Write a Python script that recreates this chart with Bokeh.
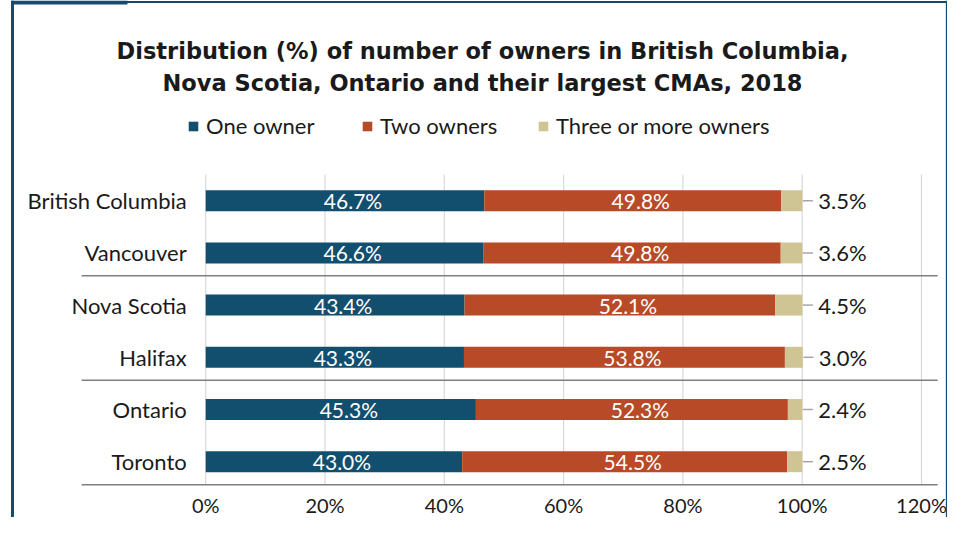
from bokeh.plotting import figure
from bokeh.models import ColumnDataSource, Range1d, Legend, LegendItem, Label
from bokeh.core.properties import value
from bokeh.embed import file_html
from bokeh.resources import INLINE

# ---- data ----
regions = ["British Columbia", "Vancouver", "Nova Scotia", "Halifax", "Ontario", "Toronto"]
one_owner = [46.7, 46.6, 43.4, 43.3, 45.3, 43.0]
two_owners = [49.8, 49.8, 52.1, 53.8, 52.3, 54.5]
three_plus = [3.5, 3.6, 4.5, 3.0, 2.4, 2.5]
group_sizes = [2, 2, 2]
x_ticks = [0, 20, 40, 60, 80, 100, 120]
tick_labels = ["0%", "20%", "40%", "60%", "80%", "100%", "120%"]
series_names = ["One owner", "Two owners", "Three or more owners"]
title_lines = ["Distribution (%) of number of owners in British Columbia,",
               "Nova Scotia, Ontario and their largest CMAs, 2018"]

C1, C2, C3 = "#124f6f", "#b84a27", "#cfc494"
FONT = "Lato"
TXT = "#1a1a1a"

W, H = 947, 517
idx = list(range(len(regions)))
left2 = one_owner
right2 = [a + b for a, b in zip(one_owner, two_owners)]
total = [a + b + c for a, b, c in zip(one_owner, two_owners, three_plus)]

src = ColumnDataSource(dict(
    y=idx, region=regions,
    l1=[0] * len(idx), r1=one_owner,
    l2=left2, r2=right2,
    l3=right2, r3=total,
    c1=[(0 + b) / 2 for b in one_owner],
    c2=[(a + b) / 2 for a, b in zip(left2, right2)],
    t1=[f"{v:.1f}%" for v in one_owner],
    t2=[f"{v:.1f}%" for v in two_owners],
    t3=[f"{v:.1f}%" for v in three_plus],
    lead0=[t + 0.1 for t in total],
    lead1=[t + 1.8 for t in total],
))

p = figure(width=W, height=H, output_backend="svg", toolbar_location=None,
           x_range=Range1d(-34.40, 124.36), y_range=Range1d(6.069, -3.835),
           min_border=0, border_fill_color="white", outline_line_color=None)
p.xaxis.visible = False
p.yaxis.visible = False
p.xgrid.visible = False
p.ygrid.visible = False

# vertical gridlines
p.segment(x0=x_ticks, x1=x_ticks, y0=[-0.5] * len(x_ticks), y1=[5.44] * len(x_ticks),
          line_color="#d9d9d9", line_width=1.2)

# bars
r1 = p.hbar(y="y", left="l1", right="r1", height=0.402, source=src, fill_color=C1, line_color=None)
r2 = p.hbar(y="y", left="l2", right="r2", height=0.402, source=src, fill_color=C2, line_color=None)
r3 = p.hbar(y="y", left="l3", right="r3", height=0.402, source=src, fill_color=C3, line_color=None)

# group separators and category axis line
bounds = []
acc = 0
for g in group_sizes:
    acc += g
    bounds.append(acc - 0.5 - 0.06)
p.segment(x0=[-20.8] * len(bounds), x1=[122.7] * len(bounds), y0=bounds, y1=bounds,
          line_color="#7f7f7f", line_width=1.5)

# in-bar labels
p.text(x="c1", y="y", text="t1", source=src, x_offset=8, text_align="center", text_baseline="middle",
       text_color="white", text_font=value(FONT), text_font_size="21px")
p.text(x="c2", y="y", text="t2", source=src, x_offset=8, text_align="center", text_baseline="middle",
       text_color="white", text_font=value(FONT), text_font_size="21px")
# leader lines + outside labels
p.segment(x0="lead0", x1="lead1", y0="y", y1="y", source=src, line_color="#a6a6a6", line_width=1.5)
p.text(x="r3", y="y", text="t3", source=src, x_offset=16, text_align="left", text_baseline="middle",
       text_color=TXT, text_font=value(FONT), text_font_size="22px")

# category labels
p.text(x=[0] * len(idx), y=idx, text=regions, x_offset=-19, text_align="right", text_baseline="middle",
       text_color=TXT, text_font=value(FONT), text_font_size="22px")

# x tick labels
p.text(x=x_ticks, y=[5.82] * len(x_ticks), text=tick_labels, text_align="center", text_baseline="middle",
       text_color=TXT, text_font=value(FONT), text_font_size="20px")

# title
for k, line in enumerate(title_lines):
    p.add_layout(Label(x=482, y=H - 50 - 32 * k, x_units="screen", y_units="screen", text=line,
                       text_align="center", text_baseline="middle", text_font="DejaVu Sans",
                       text_font_size="22.5px", text_font_style="bold", text_color=TXT))

# legends (one per item, horizontally placed)
legend_x = [187, 361, 537]
for rr, name, lx in zip([r1, r2, r3], series_names, legend_x):
    lg = Legend(items=[LegendItem(label=name, renderers=[rr])], location=(lx, 378),
                orientation="horizontal", padding=0, margin=0, border_line_alpha=0,
                background_fill_alpha=0, label_text_font=FONT, label_text_font_size="22px",
                label_text_color=TXT, glyph_width=12, glyph_height=12,
                label_standoff=7, label_height=20, spacing=0)
    p.add_layout(lg, "center")

# frame border
BC = "#174a6e"
p.segment(x0=[-32.39], x1=[-32.39], y0=[-3.835], y1=[6.069], line_color=BC, line_width=3)
p.segment(x0=[124.25], x1=[124.25], y0=[-3.835], y1=[6.069], line_color=BC, line_width=2)
p.segment(x0=[-32.39], x1=[124.25], y0=[-3.807], y1=[-3.807], line_color=BC, line_width=2)
p.quad(left=[-32.56], right=[-13.11], top=[-3.835], bottom=[-3.758], fill_color=BC, line_color=None)

open("out.html", "w").write(file_html(p, INLINE))
